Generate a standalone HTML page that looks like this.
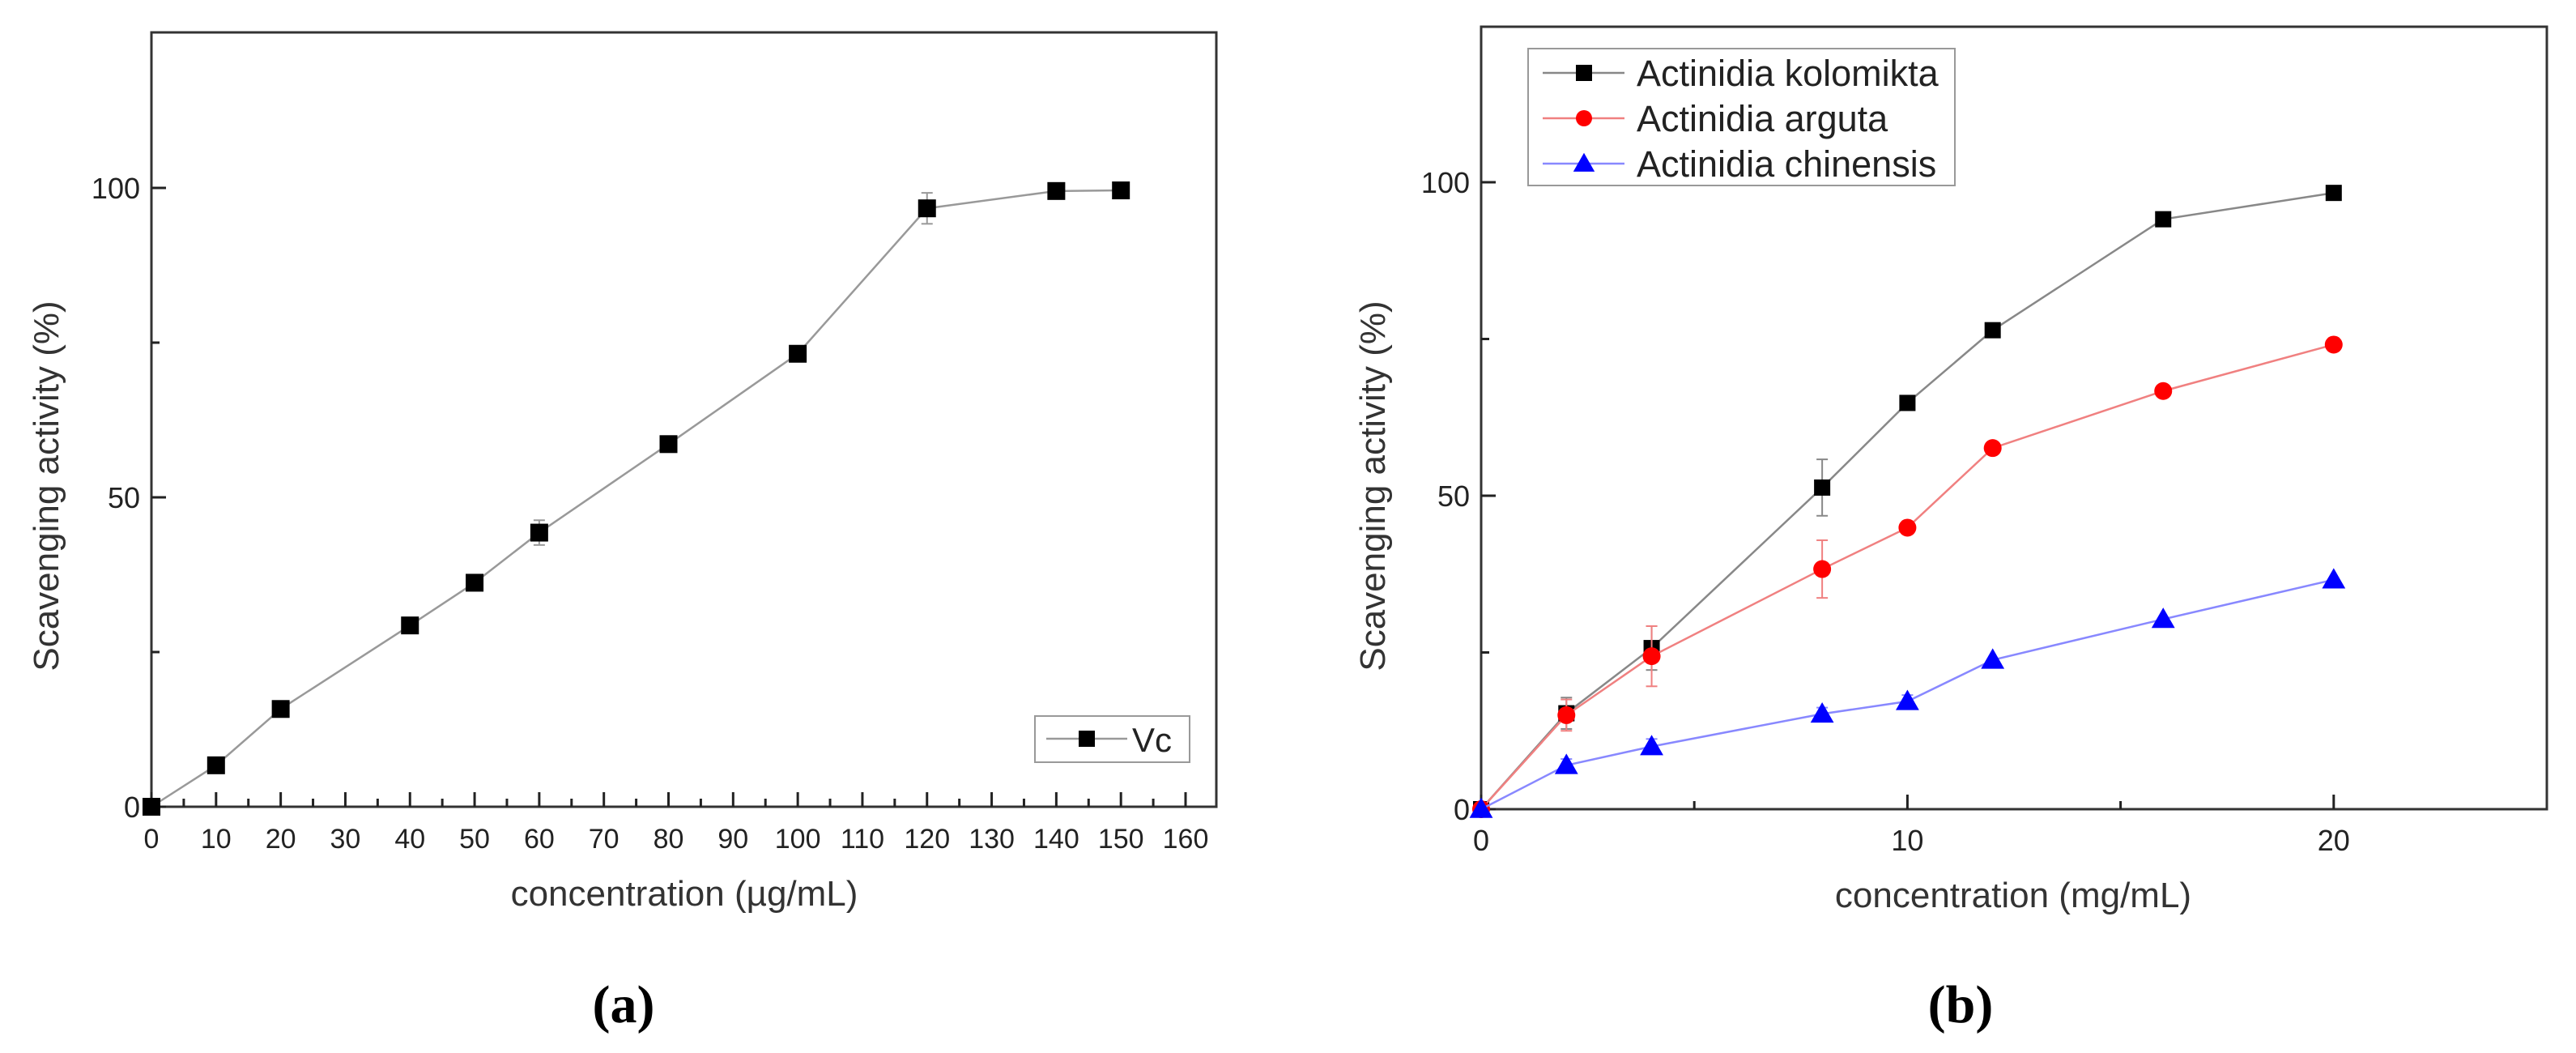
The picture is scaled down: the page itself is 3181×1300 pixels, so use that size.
<!DOCTYPE html>
<html><head><meta charset="utf-8"><style>
html,body{margin:0;padding:0;background:#fff;}
svg{display:block;font-family:"Liberation Sans",sans-serif;}
</style></head><body>
<svg id="fig" width="3181" height="1300" viewBox="0 0 3181 1300" xmlns="http://www.w3.org/2000/svg">
<g id="pa"></g>
<g id="pb"></g>
<text x="770" y="1262" font-family="Liberation Serif,serif" font-weight="bold" font-size="66" text-anchor="middle">(a)</text>
<text x="2421" y="1262" font-family="Liberation Serif,serif" font-weight="bold" font-size="66" text-anchor="middle">(b)</text>
</svg>
<script>
// Panel (a) data
const aX = [0, 10, 20, 40, 50, 60, 80, 100, 120, 140, 150];
const aY = [0, 6.7, 15.8, 29.3, 36.2, 44.3, 58.6, 73.2, 96.7, 99.5, 99.6];
const aErr = [0, 0.5, 0.8, 0.6, 0.6, 2, 0.6, 0.6, 2.5, 0.5, 0.5];
const aXTicks = [0,10,20,30,40,50,60,70,80,90,100,110,120,130,140,150,160];
const aYTicks = [0, 50, 100];
// Panel (b) data
const bX = [0, 2, 4, 8, 10, 12, 16, 20];
const bKolomikta = [0, 15.3, 25.7, 51.3, 64.8, 76.4, 94.1, 98.3];
const bKolomiktaErr = [0, 2.5, 3.5, 4.5, 1, 0.8, 0.8, 0.8];
const bArguta = [0, 15, 24.4, 38.3, 44.9, 57.6, 66.7, 74.1];
const bArgutaErr = [0, 2.5, 4.8, 4.6, 0.8, 0.8, 0.8, 0.8];
const bChinensis = [0, 7, 10, 15.2, 17.2, 23.8, 30.3, 36.6];
const bChinensisErr = [0, 1, 1.2, 1, 1, 0.8, 0.8, 0.8];
const bXTicks = [0, 10, 20];
const bYTicks = [0, 50, 100];
const bNames = ["Actinidia kolomikta", "Actinidia arguta", "Actinidia chinensis"];

const NS = "http://www.w3.org/2000/svg";
function mk(parent, tag, attrs){ const e=document.createElementNS(NS,tag); for(const k in attrs) e.setAttribute(k,attrs[k]); parent.appendChild(e); return e; }

function marker(g, shape, cx, cy, color, s){
  let m;
  if(shape==='square') m = mk(g,'rect',{x:cx-s/2,y:cy-s/2,width:s,height:s,fill:color});
  else if(shape==='circle') m = mk(g,'circle',{cx:cx,cy:cy,r:s/2,fill:color});
  else m = mk(g,'polygon',{points:`${cx},${cy-s*0.6} ${cx-s*0.6},${cy+s*0.45} ${cx+s*0.6},${cy+s*0.45}`,fill:color});
  return m;
}

function axes(g, L, T, R, B, xs, ys, xMajor, xMinor, yMajor, yMinor, xFont){
  const frame = mk(g,'rect',{x:L,y:T,width:R-L,height:B-T,fill:'none',stroke:'#333','stroke-width':3});
  
  
  xMajor.forEach(v=>{
    const t = mk(g,'line',{x1:xs(v),x2:xs(v),y1:B,y2:B-18,stroke:'#222','stroke-width':3});
    
    
    const lb = mk(g,'text',{x:xs(v),y:B+51,'font-size':xFont,'text-anchor':'middle',fill:'#222'});
    lb.textContent = v;
    
    
  });
  xMinor.forEach(v=>{ mk(g,'line',{x1:xs(v),x2:xs(v),y1:B,y2:B-10,stroke:'#222','stroke-width':3}); });
  yMajor.forEach(v=>{
    const t = mk(g,'line',{x1:L,x2:L+18,y1:ys(v),y2:ys(v),stroke:'#222','stroke-width':3});
    
    
    const lb = mk(g,'text',{x:L-14,y:ys(v)+13,'font-size':36,'text-anchor':'end',fill:'#222'});
    lb.textContent = v;
    
    
  });
  yMinor.forEach(v=>{ mk(g,'line',{x1:L,x2:L+10,y1:ys(v),y2:ys(v),stroke:'#222','stroke-width':3}); });
}

function series(g, xsArr, ysArr, errArr, xs, ys, lineColor, markColor, shape, size, name){
  const sg = mk(g,'g',{});
  
  
  const pts = xsArr.map((x,i)=>xs(x)+','+ys(ysArr[i])).join(' ');
  mk(sg,'polyline',{points:pts,fill:'none',stroke:lineColor,'stroke-width':2.5});
  xsArr.forEach((x,i)=>{
    const e = errArr[i];
    if(e>0.9){
      const cx=xs(x), y1=ys(ysArr[i]+e), y2=ys(ysArr[i]-e);
      mk(sg,'line',{x1:cx,x2:cx,y1:y1,y2:y2,stroke:lineColor,'stroke-width':2});
      mk(sg,'line',{x1:cx-7,x2:cx+7,y1:y1,y2:y1,stroke:lineColor,'stroke-width':2});
      mk(sg,'line',{x1:cx-7,x2:cx+7,y1:y2,y2:y2,stroke:lineColor,'stroke-width':2});
    }
    const m = marker(sg, shape, xs(x), ys(ysArr[i]), markColor, size);
    
    
  });
}

// Panel (a)
(function(){
  const g = document.getElementById('pa');
  const L=187, R=1502, T=40, B=996;
  const xs = v => L + v*(1464-187)/160;
  const ys = v => B - v*(B-232)/100;
  axes(g,L,T,R,B,xs,ys,aXTicks,aXTicks.slice(0,-1).map(v=>v+5),aYTicks,[25,75],34);
  series(g,aX,aY,aErr,xs,ys,'#999','#000','square',22,'vc-series');
  const t1 = mk(g,'text',{x:845,y:1118,'font-size':44,'text-anchor':'middle',fill:'#333'});
  t1.textContent='concentration (\u00b5g/mL)';
  
  
  const t2 = mk(g,'text',{x:0,y:0,'font-size':44,'text-anchor':'middle',fill:'#333',transform:'translate(72,600) rotate(-90)'});
  t2.textContent='Scavenging activity (%)';
  
  
  const lg = mk(g,'g',{});
  
  
  mk(lg,'rect',{x:1278,y:884,width:191,height:57,fill:'#fff',stroke:'#999','stroke-width':2});
  mk(lg,'line',{x1:1292,x2:1392,y1:912,y2:912,stroke:'#999','stroke-width':2.5});
  marker(lg,'square',1342,912,'#000',20);
  const lt = mk(lg,'text',{x:1398,y:928,'font-size':42,fill:'#222'});
  lt.textContent='Vc';
  
  
})();

// Panel (b)
(function(){
  const g = document.getElementById('pb');
  const L=1829, R=3145, T=33, B=999;
  const xs = v => L + v*(R-L)/25;
  const ys = v => B - v*(B-225)/100;
  axes(g,L,T,R,B,xs,ys,bXTicks,[5,15],bYTicks,[25,75],36);
  series(g,bX,bKolomikta,bKolomiktaErr,xs,ys,'#888','#000','square',20,'kolomikta-series');
  series(g,bX,bArguta,bArgutaErr,xs,ys,'#f08080','#f00','circle',22,'arguta-series');
  series(g,bX,bChinensis,bChinensisErr,xs,ys,'#8888ff','#00f','triangle',24,'chinensis-series');
  const t1 = mk(g,'text',{x:2486,y:1120,'font-size':44,'text-anchor':'middle',fill:'#333'});
  t1.textContent='concentration (mg/mL)';
  
  
  const t2 = mk(g,'text',{x:0,y:0,'font-size':44,'text-anchor':'middle',fill:'#333',transform:'translate(1710,600) rotate(-90)'});
  t2.textContent='Scavenging activity (%)';
  
  
  const lg = mk(g,'g',{});
  
  
  mk(lg,'rect',{x:1887,y:60,width:527,height:169,fill:'#fff',stroke:'#999','stroke-width':2});
  const lineC=['#888','#f08080','#8888ff'], markC=['#000','#f00','#00f'], shp=['square','circle','triangle'];
  const rowY=[90,146,202];
  bNames.forEach((n,i)=>{
    mk(lg,'line',{x1:1905,x2:2006,y1:rowY[i],y2:rowY[i],stroke:lineC[i],'stroke-width':2.5});
    marker(lg,shp[i],1956,rowY[i],markC[i],shp[i]==='triangle'?22:20);
    const lt = mk(lg,'text',{x:2021,y:rowY[i]+16,'font-size':45,fill:'#222'});
    lt.textContent=n;
    
    
  });
})();
</script>
</body></html>
